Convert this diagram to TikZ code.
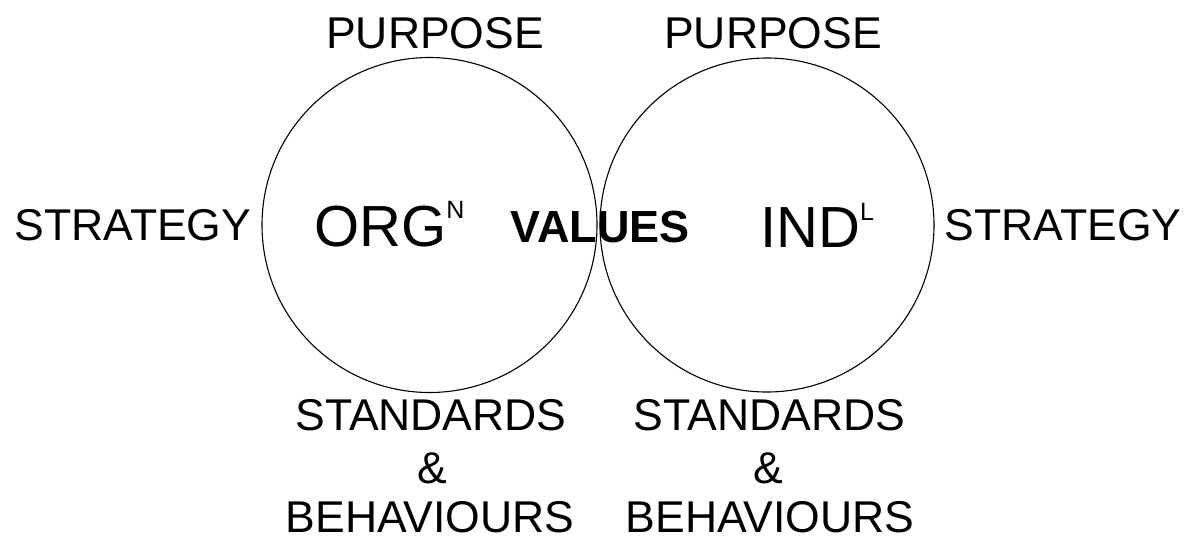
\documentclass[tikz,border=0pt]{standalone}
\usepackage{fontspec}
\setmainfont{Liberation Sans}
\begin{document}
\begin{tikzpicture}[x=1pt,y=-1pt,
  lbl/.style={inner sep=0pt,anchor=base,text depth=0pt,font=\fontsize{44.5}{48}\selectfont},
  big/.style={inner sep=0pt,anchor=base west,font=\fontsize{58}{60}\selectfont},
  ring/.style={circle,draw=black,line width=1.1pt,inner sep=0pt}]
\useasboundingbox (0,0) rectangle (1191,538);
\node[ring,minimum size=335pt] (org) at (429.5,225) {};
\node[ring,minimum size=334pt] (ind) at (767,225) {};
\node[lbl] (p1) at (435,48) {PURPOSE};
\node[lbl] (p2) at (773,48) {PURPOSE};
\node[lbl] (s1) at (133,240) {STRATEGY};
\node[lbl] (s2) at (1063,240) {STRATEGY};
\node[big] (orgt) at (314,246) {ORG\raisebox{28pt}{\fontsize{25}{25}\selectfont N}};
\node[big] (indt) at (760,247) {IND\raisebox{27pt}{\fontsize{25}{25}\selectfont L}};
\node[lbl,font=\fontsize{45}{48}\selectfont\bfseries] (val) at (600,242) {VALUES};
\node[lbl] (st1) at (431,430) {STANDARDS};
\node[lbl] (st2) at (769.5,430) {STANDARDS};
\node[lbl] (a1) at (432,483) {\&};
\node[lbl] (a2) at (768.5,483) {\&};
\node[lbl] (b1) at (430,532) {BEHAVIOURS};
\node[lbl] (b2) at (770,532) {BEHAVIOURS};
\end{tikzpicture}
\end{document}
